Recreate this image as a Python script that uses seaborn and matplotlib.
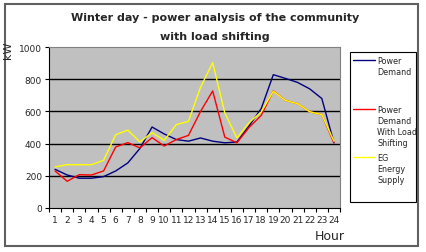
import matplotlib
matplotlib.use("Agg")
import matplotlib.pyplot as plt
import seaborn as sns
import pandas as pd
from matplotlib.patches import Rectangle

hours = list(range(1, 25))
power_demand = [240, 205, 185, 185, 195, 230, 280, 370, 503, 460, 425, 415, 435, 415, 405, 410, 510, 617, 828, 805, 780, 740, 680, 405]
load_shifting = [230, 166, 207, 205, 230, 379, 406, 373, 437, 385, 425, 451, 600, 727, 440, 405, 500, 575, 727, 668, 648, 598, 580, 405]
eg_supply = [255, 269, 269, 269, 296, 455, 484, 410, 468, 420, 518, 538, 750, 903, 590, 435, 530, 596, 725, 668, 648, 598, 580, 415]
series_names = ["Power\nDemand", "Power\nDemand\nWith Load\nShifting", "EG\nEnergy\nSupply"]
colors = ["#000080", "#FF0000", "#FFFF00"]
yticks = [0, 200, 400, 600, 800, 1000]

df = pd.concat([
    pd.DataFrame({"Hour": hours, "kW": vals, "series": name})
    for name, vals in zip(series_names, [power_demand, load_shifting, eg_supply])
])

sns.set_theme(style="white")
plt.rcParams['font.family'] = ['DejaVu Sans']

fig = plt.figure(figsize=(4.26, 2.53), dpi=100)
W, H = 426, 253
ax = fig.add_axes([49 / W, 1 - 209 / H, (340 - 49) / W, (209 - 48) / H])
ax.set_facecolor("#C0C0C0")

sns.lineplot(data=df, x="Hour", y="kW", hue="series", palette=colors,
             linewidth=1.0, ax=ax, legend=False)

ax.set_xlim(0.5, 24.5)
ax.set_ylim(0, 1000)
ax.set_yticks(yticks)
ax.set_yticklabels([str(v) for v in yticks], fontsize=6.5)
ax.set_xticks(hours)
ax.set_xticklabels([str(h) for h in hours], fontsize=6.5)
ax.set_xticks([h + 0.5 for h in [0] + hours], minor=True)
ax.tick_params(axis="x", which="major", length=0, pad=5)
ax.tick_params(axis="x", which="minor", length=3, width=0.8, color="black", bottom=True)
ax.tick_params(axis="y", which="major", length=3, width=0.8, color="black", left=True, pad=2)
for v in yticks[1:-1]:
    ax.axhline(v, color="black", linewidth=1.0, zorder=0.5)
for side in ["top", "right"]:
    ax.spines[side].set_color("#808080")
    ax.spines[side].set_linewidth(0.8)
ax.spines["left"].set_color("black")
ax.spines["bottom"].set_color("black")
ax.spines["left"].set_linewidth(0.8)
ax.spines["bottom"].set_linewidth(0.8)
ax.set_xlabel("")
ax.set_ylabel("")

fig.text(8 / W, 1 - 50 / H, "kW", rotation=90, fontsize=8, ha="center", va="center")
fig.text(330 / W, 1 - 236 / H, "Hour", fontsize=9, ha="center", va="center")

fig.text(215 / W, 1 - 18 / H, "Winter day - power analysis of the community",
         fontsize=8, fontweight="bold", ha="center", va="center")
fig.text(215 / W, 1 - 37 / H, "with load shifting",
         fontsize=8, fontweight="bold", ha="center", va="center")

# legend box
fig.patches.append(Rectangle((350 / W, 1 - 203 / H), (416 - 350) / W, (203 - 53) / H,
                             transform=fig.transFigure, facecolor="white",
                             edgecolor="black", linewidth=0.8))
entries = [(61, 66), (110, 127), (158, 171)]
for (ly, ty), name, c in zip(entries, series_names, colors):
    fig.add_artist(plt.Line2D([353 / W, 375 / W], [1 - ly / H, 1 - ly / H],
                              transform=fig.transFigure, color=c, linewidth=1.0))
    fig.text(377 / W, 1 - (ly - 4) / H, name, fontsize=5.8, ha="left", va="top",
             linespacing=1.3)

# outer frame
fig.patches.append(Rectangle((5 / W, 1 - 247 / H), (418 - 5) / W, (247 - 5) / H,
                             transform=fig.transFigure, facecolor="none",
                             edgecolor="#606060", linewidth=1.5))

fig.savefig("out.png", dpi=100, facecolor="white")
